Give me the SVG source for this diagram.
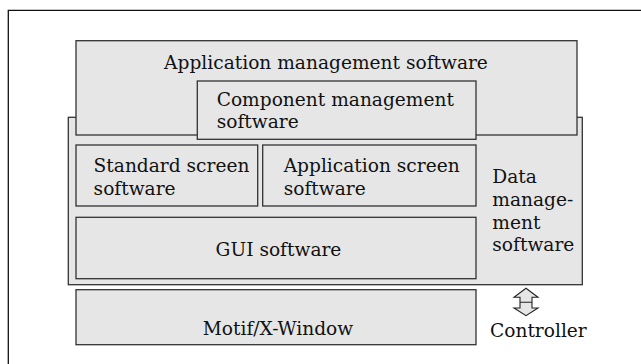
<svg xmlns="http://www.w3.org/2000/svg" width="641" height="364" viewBox="0 0 641 364">
<style>
.box{fill:#e6e6e6;stroke:#333;stroke-width:1.3}
.t{font-family:"DejaVu Serif","Liberation Serif",serif;font-size:18.6px;fill:#111}
.m{text-anchor:middle}
</style>
<rect x="0" y="0" width="641" height="364" fill="#fff"/>
<path d="M8.3 364 V10.3 H641" fill="none" stroke="#111" stroke-width="1.3"/>
<g id="data-mgmt">
<rect class="box" x="68.3" y="117.3" width="514" height="167.4"/>
<text class="t" x="492.3" y="183.3">Data</text>
<text class="t" x="492.3" y="206.3">manage-</text>
<text class="t" x="492.3" y="228.8">ment</text>
<text class="t" x="492.3" y="251.3">software</text>
</g>
<g id="app-mgmt">
<rect class="box" x="76" y="40.7" width="501" height="94.3"/>
<text class="t m" x="326" y="69.3">Application management software</text>
</g>
<g id="component-mgmt">
<rect class="box" x="197.3" y="81" width="278.7" height="58.3"/>
<text class="t" x="216.7" y="106">Component management</text>
<text class="t" x="216.7" y="128">software</text>
</g>
<g id="standard-screen">
<rect class="box" x="76" y="145" width="181.7" height="61"/>
<text class="t" x="93.6" y="171.7">Standard screen</text>
<text class="t" x="93.6" y="194.5">software</text>
</g>
<g id="app-screen">
<rect class="box" x="262.7" y="145" width="213.3" height="61"/>
<text class="t" x="283.7" y="171.7">Application screen</text>
<text class="t" x="283.7" y="194.5">software</text>
</g>
<g id="gui">
<rect class="box" x="76" y="217.3" width="400" height="61.4"/>
<text class="t m" x="278.5" y="256">GUI software</text>
</g>
<g id="motif">
<rect class="box" x="76" y="289.7" width="400" height="55"/>
<text class="t m" x="278" y="335">Motif/X-Window</text>
</g>
<g id="controller">
<text class="t" x="490" y="336.7">Controller</text>
</g>
<g id="connectors">
<path d="M526 288.3 L538 297.3 H532 V308 H538 L526 315.7 L514 308 H520 V297.3 H514 Z M520 302.3 H532" fill="#e6e6e6" stroke="#222" stroke-width="1.1" stroke-linejoin="miter"/>
</g>
</svg>
